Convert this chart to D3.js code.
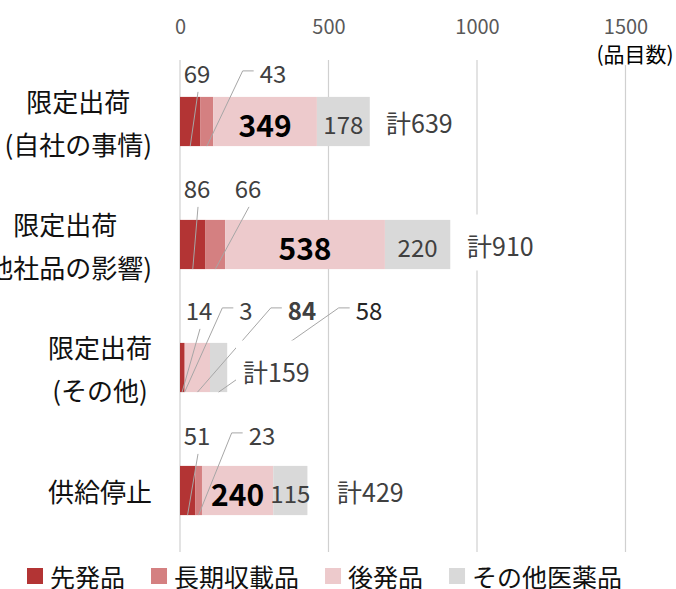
<!DOCTYPE html>
<html>
<head>
<meta charset="utf-8">
<script src="https://cdn.jsdelivr.net/npm/d3@7"></script>
<style>
  html, body { margin: 0; padding: 0; background: #fff; }
  svg { display: block; font-family: "Noto Sans CJK JP", "Noto Sans", sans-serif; }
</style>
</head>
<body>
<svg id="chart" width="676" height="589"></svg>
<script>
// ---- data ----
const categories = ["限定出荷\n(自社の事情)", "限定出荷\n(他社品の影響)", "限定出荷\n(その他)", "供給停止"];
const seriesNames = ["先発品", "長期収載品", "後発品", "その他医薬品"];
const brandValues = [69, 86, 14, 51];
const longListedValues = [43, 66, 3, 23];
const genericValues = [349, 538, 84, 240];
const otherValues = [178, 220, 58, 115];
const totalValues = [639, 910, 159, 429];
const tickValues = [0, 500, 1000, 1500];
const unitLabel = "(品目数)";
const totalPrefix = "計";
const seriesColors = ["#b33434", "#d48081", "#edcacc", "#d9d9d9"];

// ---- layout (label placement, not data) ----
const callouts = [
  [{s: 0, x: 197, dy: -24}, {s: 1, x: 273, dy: -24, stub: true}],
  [{s: 0, x: 197, dy: -32}, {s: 1, x: 248, dy: -32}],
  [{s: 0, x: 199, dy: -33}, {s: 1, x: 246, dy: -33, stub: true},
   {s: 2, x: 302, dy: -33, stub: true, bold: true}, {s: 3, x: 369, dy: -33, stub: true, dark: true}],
  [{s: 0, x: 197, dy: -31}, {s: 1, x: 262, dy: -31, stub: true}]
];
const insideSeries = [[2, 3], [2, 3], [], [2, 3]];
const totalLabelPos = [{x: 386, dy: 0}, {x: 467, dy: 0}, {x: 243, dy: 3}, {x: 337, dy: 0}];

const series = [brandValues, longListedValues, genericValues, otherValues];
const rows = categories.map((c, i) => {
  const r = {category: c};
  seriesNames.forEach((s, j) => r[s] = series[j][i]);
  return r;
});
const stacked = d3.stack().keys(seriesNames)(rows);

const svg = d3.select("#chart");
const x = d3.scaleLinear().domain([0, 1500]).range([180, 625.5]);
const y = d3.scaleBand().domain(categories).range([60, 552]).paddingInner(0.6).paddingOuter(0.3);

// gridlines
svg.append("g").selectAll("line").data(tickValues).join("line")
  .attr("x1", d => x(d)).attr("x2", d => x(d))
  .attr("y1", 60).attr("y2", 552)
  .attr("stroke", "#d0d0d0").attr("stroke-width", 1.2);

// top axis tick labels
const axis = d3.axisTop(x).tickValues(tickValues).tickSize(0).tickPadding(0).tickFormat(d3.format("d"));
const axisG = svg.append("g").attr("transform", "translate(0,27)").call(axis);
axisG.select(".domain").remove();
axisG.selectAll("text").attr("font-size", 20).attr("fill", "#595959")
  .attr("font-family", "Noto Sans CJK JP").attr("dy", "0.35em").attr("y", 0);

// unit label with white background
const unitG = svg.append("g");
unitG.append("rect").attr("x", 592).attr("y", 41).attr("width", 84).attr("height", 24).attr("fill", "#fff");
unitG.append("text").attr("x", 635).attr("y", 53).attr("text-anchor", "middle")
  .attr("dominant-baseline", "central").attr("font-size", 21).attr("fill", "#000").text(unitLabel);

// bars
svg.append("g").selectAll("g").data(stacked).join("g")
  .attr("fill", (d, i) => seriesColors[i])
  .selectAll("rect").data(d => d).join("rect")
  .attr("x", d => x(d[0]))
  .attr("width", d => x(d[1]) - x(d[0]))
  .attr("y", d => y(d.data.category))
  .attr("height", y.bandwidth());

// category labels
const catG = svg.append("g");
categories.forEach(c => {
  const lines = c.split("\n");
  const cy = y(c) + y.bandwidth() / 2;
  const g = catG.append("g");
  const texts = lines.map((ln, k) => g.append("text")
    .attr("y", cy + (k - (lines.length - 1) / 2) * 43)
    .attr("text-anchor", "middle").attr("dominant-baseline", "central")
    .attr("font-size", 26).attr("fill", "#111").text(ln));
  const w = d3.max(texts, t => t.node().getComputedTextLength());
  texts.forEach(t => t.attr("x", 152 - w / 2));
});

// inside labels
categories.forEach((c, i) => {
  const cy = y(c) + y.bandwidth() / 2 + 2;
  insideSeries[i].forEach(s => {
    const seg = stacked[s][i];
    const bold = s === 2;
    svg.append("text")
      .attr("x", (x(seg[0]) + x(seg[1])) / 2).attr("y", cy)
      .attr("text-anchor", "middle").attr("dominant-baseline", "central")
      .attr("font-size", bold ? 30 : 24).attr("font-weight", bold ? "bold" : "normal")
      .attr("fill", bold ? "#000" : "#404040")
      .text(series[s][i]);
  });
});

// callouts (leaders + labels)
const leaderG = svg.append("g").attr("stroke", "#a6a6a6").attr("stroke-width", 1).attr("fill", "none");
const calloutG = svg.append("g");
categories.forEach((c, i) => {
  const top = y(c), bottom = top + y.bandwidth();
  callouts[i].forEach(co => {
    const seg = stacked[co.s][i];
    const ex = (x(seg[0]) + x(seg[1])) / 2;
    const ly = top + co.dy;
    const t = calloutG.append("text")
      .attr("x", co.x).attr("y", ly)
      .attr("text-anchor", "middle").attr("dominant-baseline", "central")
      .attr("font-size", 24).attr("font-weight", co.bold ? "bold" : "normal")
      .attr("fill", co.dark ? "#262626" : "#404040")
      .text(series[co.s][i]);
    if (co.stub) {
      const bb = t.node().getBBox();
      const sx = bb.x - 6, sy = ly - 2;
      leaderG.append("polyline")
        .attr("points", [[sx, sy], [sx - 11, sy], [ex, bottom]].map(p => p.join(",")).join(" "));
    } else {
      leaderG.append("line")
        .attr("x1", co.x + 1).attr("y1", ly + 19)
        .attr("x2", ex).attr("y2", bottom);
    }
  });
});

// totals with white background
const totG = svg.append("g");
categories.forEach((c, i) => {
  const cy = y(c) + y.bandwidth() / 2 + totalLabelPos[i].dy;
  const g = totG.append("g");
  const r = g.append("rect").attr("fill", "#fff");
  const t = g.append("text").attr("x", totalLabelPos[i].x).attr("y", cy)
    .attr("dominant-baseline", "central").attr("font-size", 25).attr("fill", "#404040")
    .text(totalPrefix + totalValues[i]);
  const w = t.node().getComputedTextLength();
  r.attr("x", totalLabelPos[i].x - 7).attr("y", cy - 30).attr("width", w + 14).attr("height", 56);
});

// legend
const legend = svg.append("g");
let lx = 27;
seriesNames.forEach((s, i) => {
  legend.append("rect").attr("x", lx).attr("y", 568).attr("width", 16).attr("height", 16).attr("fill", seriesColors[i]);
  const t = legend.append("text").attr("x", lx + 23).attr("y", 576)
    .attr("dominant-baseline", "central").attr("font-size", 25).attr("fill", "#111").text(s);
  lx += 23 + t.node().getComputedTextLength() + 26;
});
</script>
</body>
</html>
